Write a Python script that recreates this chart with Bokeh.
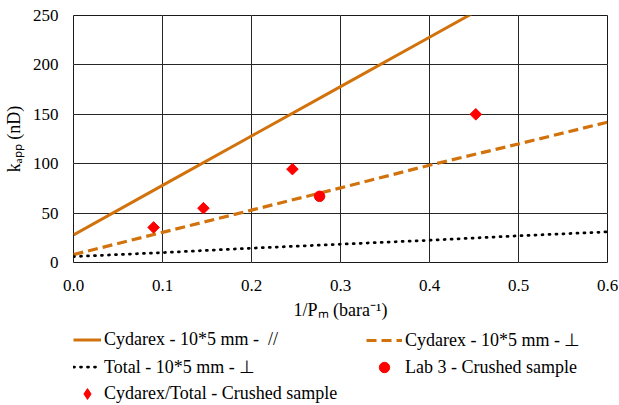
from math import pi
from bokeh.plotting import figure
from bokeh.layouts import column
from bokeh.models import (ColumnDataSource, Legend, LegendItem, LinearAxis, Grid,
                          FixedTicker, NumeralTickFormatter, Range1d)
from bokeh.embed import file_html
from bokeh.resources import INLINE

# ---- data ----
x_line = [0.0, 0.1, 0.2, 0.3, 0.4, 0.5, 0.6]
cydarex_par = [28, 78, 128, 178, 228, 278, 328]          # solid  (//)
cydarex_perp = [8, 30.5, 53, 75.5, 98.5, 120, 142]        # dashed (perp)
total_perp = [6, 10, 14.5, 18.5, 22.5, 27, 31]            # dotted (perp)

lab3_x = [0.2765]
lab3_y = [67]

crushed_x = [0.090, 0.146, 0.246, 0.452]
crushed_y = [35.5, 55, 94.5, 150]

x_ticks = [0.0, 0.1, 0.2, 0.3, 0.4, 0.5, 0.6]
y_ticks = [0, 50, 100, 150, 200, 250]

x_title = "1/P\u2098 (bara\u207b\u00b9)"
y_title = "k\u2090\u209a\u209a (nD)"

label_par = "Cydarex - 10*5 mm -  //"
label_perp = "Cydarex - 10*5 mm - \u22a5"
label_total = "Total - 10*5 mm - \u22a5"
label_lab3 = "Lab 3 - Crushed sample"
label_crushed = "Cydarex/Total - Crushed sample"

ORANGE = "#D2720C"
RED = "#FF0000"
FONT = "'Liberation Serif', serif"

src = ColumnDataSource(dict(x=x_line, par=cydarex_par, perp=cydarex_perp, tot=total_perp))
src_lab3 = ColumnDataSource(dict(x=lab3_x, y=lab3_y))
src_crushed = ColumnDataSource(dict(x=crushed_x, y=crushed_y))


def add_series(fig, crushed_marker, crushed_size, crushed_angle):
    r_par = fig.line("x", "par", source=src, line_color=ORANGE, line_width=3)
    r_perp = fig.line("x", "perp", source=src, line_color=ORANGE, line_width=3.2,
                      line_dash="10 5")
    r_tot = fig.line("x", "tot", source=src, line_color="#000000", line_width=2.75,
                     line_dash="1 6", line_cap="round")
    r_crushed = fig.scatter("x", "y", source=src_crushed, marker=crushed_marker,
                            angle=crushed_angle, size=crushed_size,
                            fill_color=RED, line_color=RED)
    r_lab3 = fig.scatter("x", "y", source=src_lab3, marker="circle", size=10.5,
                         fill_color=RED, line_color=RED)
    return r_par, r_perp, r_tot, r_crushed, r_lab3


# ---- main chart ----
p = figure(width=619, height=325, output_backend="svg", toolbar_location=None,
           x_range=Range1d(0, 0.6), y_range=Range1d(0, 250),
           x_axis_location=None, y_axis_location=None,
           min_border_left=71, min_border_right=14, min_border_top=15,
           min_border_bottom=63)
p.frame_width = 534
p.frame_height = 247
p.background_fill_color = "white"
p.border_fill_color = "white"
p.outline_line_color = "#1a1a1a"
p.outline_line_width = 1

axis_style = dict(axis_line_color=None, major_tick_line_color=None,
                  minor_tick_line_color=None, major_tick_out=0, major_tick_in=0,
                  minor_tick_out=0, minor_tick_in=0,
                  major_label_text_font=FONT, major_label_text_font_size="17px",
                  major_label_text_color="#000000",
                  axis_label_text_font=FONT, axis_label_text_font_size="18px",
                  axis_label_text_font_style="normal",
                  axis_label_text_color="#000000")

xa = LinearAxis(ticker=FixedTicker(ticks=x_ticks),
                formatter=NumeralTickFormatter(format="0.0"),
                major_label_standoff=17, axis_label=x_title,
                axis_label_standoff=6, **axis_style)
ya = LinearAxis(ticker=FixedTicker(ticks=y_ticks),
                formatter=NumeralTickFormatter(format="0"),
                major_label_standoff=15, axis_label=y_title,
                axis_label_standoff=6, **axis_style)
p.add_layout(xa, "below")
p.add_layout(ya, "left")
p.add_layout(Grid(dimension=0, ticker=xa.ticker, grid_line_color="#262626"))
p.add_layout(Grid(dimension=1, ticker=ya.ticker, grid_line_color="#262626"))

add_series(p, "square", 8.2, pi / 4)

# ---- legend strip below the chart (same series, used only as legend keys) ----
q = figure(width=619, height=80, output_backend="svg", toolbar_location=None,
           x_range=Range1d(10, 11), y_range=Range1d(10, 11),
           x_axis_location=None, y_axis_location=None,
           min_border_left=0, min_border_right=0, min_border_top=0,
           min_border_bottom=0)
q.grid.visible = False
q.outline_line_color = None
q.background_fill_color = "white"
q.border_fill_color = "white"
k_par, k_perp, k_tot, k_crushed, k_lab3 = add_series(q, "diamond", 8.2, 0.0)


def make_legend(items, loc, gw, gh, sp):
    return Legend(items=items, location=loc, orientation="vertical",
                  glyph_width=gw, glyph_height=gh, label_height=22,
                  label_standoff=3, spacing=sp, padding=0, margin=0,
                  border_line_color=None, background_fill_alpha=0,
                  label_text_font=FONT, label_text_font_size="18px",
                  label_text_color="#000000", level="overlay")


q.add_layout(make_legend([LegendItem(label=label_par, renderers=[k_par]),
                          LegendItem(label=label_total, renderers=[k_tot]),
                          LegendItem(label=label_crushed, renderers=[k_crushed])],
                         (0, -2), 28, 27, 0))
q.add_layout(make_legend([LegendItem(label=label_perp, renderers=[k_perp]),
                          LegendItem(label=label_lab3, renderers=[k_lab3])],
                         (293, 25), 36, 26, 1))

layout = column(p, q, spacing=0)

open("out.html", "w").write(file_html(layout, INLINE))
